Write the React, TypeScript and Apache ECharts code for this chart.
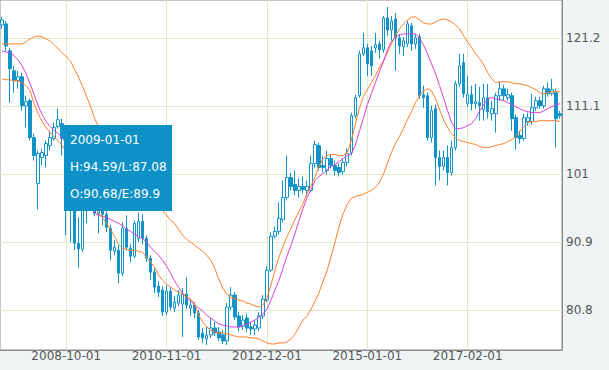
import { useEffect, useRef } from "react";
import * as echarts from "echarts";

// Monthly categories, 2007-06-01 .. 2019-01-01 (140 months)
const START_YEAR = 2007;
const START_MONTH = 6;
const MONTH_COUNT = 140;
const categories: string[] = [];
for (let k = 0; k < MONTH_COUNT; k++) {
  const m = START_MONTH - 1 + k;
  const yy = START_YEAR + Math.floor(m / 12);
  const mm = (m % 12) + 1;
  categories.push(`${yy}-${String(mm).padStart(2, "0")}-01`);
}

const yTicks = [80.8, 90.9, 101, 111.1, 121.2];

const opens = [
  123.17, 123.32, 119.32, 116.36, 114.88, 115.47, 111.17, 111.92, 106.44, 99.62,
  103.47, 103.77, 105.25, 106.29, 108.07, 108.51, 106.29, 98.58, 96.36, 90.68,
  89.84, 96.36, 98.58, 99.32, 95.18, 96.36, 95.03, 92.95, 89.55, 89.69,
  86.29, 92.95, 89.99, 88.81, 91.47, 93.99, 91.47, 88.51, 86.44, 84.36,
  83.77, 80.51, 83.62, 81.1, 81.84, 81.69, 83.18, 81.1, 81.55, 80.36,
  77.4, 76.51, 77.1, 78.14, 77.55, 77.1, 76.21, 81.25, 83.03, 79.92,
  78.44, 79.62, 78.29, 77.99, 78.14, 79.92, 82.29, 86.73, 91.77, 92.51,
  94.29, 97.55, 100.51, 99.47, 98.58, 99.18, 98.58, 98.58, 102.58, 105.25,
  102.29, 101.55, 103.32, 102.29, 101.99, 101.4, 102.73, 104.21, 109.69, 112.66,
  118.88, 119.77, 119.32, 119.77, 120.36, 119.47, 124.21, 122.43, 124.06, 121.25,
  119.92, 120.36, 123.03, 120.36, 121.4, 112.81, 112.66, 106.44, 110.73, 103.47,
  102.14, 103.47, 101.25, 104.95, 114.43, 117.55, 111.47, 112.81, 111.47, 111.62,
  110.58, 112.36, 109.99, 109.99, 112.66, 113.69, 112.36, 112.66, 109.4, 106.73,
  106.29, 108.81, 108.81, 110.88, 111.92, 111.17, 113.69, 112.95, 113.1, 109.99,
];

const closes = [
  123.92, 120.06, 116.66, 114.88, 115.47, 111.17, 111.77, 106.44, 103.77, 104.06,
  104.21, 105.55, 106.44, 107.92, 109.1, 106.29, 98.58, 96.36, 90.73, 89.9,
  96.36, 98.58, 100.07, 95.18, 96.36, 95.03, 93.1, 89.69, 90.14, 86.29,
  92.95, 90.14, 88.81, 93.69, 93.99, 91.47, 88.51, 86.44, 84.21, 83.47,
  80.51, 83.62, 81.25, 81.99, 83.03, 83.18, 81.55, 81.55, 80.36, 76.81,
  76.66, 77.1, 78.14, 77.4, 76.66, 76.21, 81.25, 83.03, 79.77, 78.29,
  79.32, 78.14, 77.99, 78.58, 79.92, 82.44, 86.73, 91.77, 92.51, 94.44,
  97.55, 100.51, 99.18, 98.58, 99.18, 98.73, 99.18, 102.58, 105.4, 101.99,
  101.99, 103.32, 102.29, 101.55, 101.25, 102.73, 104.06, 109.69, 112.36, 118.88,
  119.77, 117.4, 117.1, 120.21, 119.47, 124.21, 122.43, 123.77, 121.25, 120.06,
  120.8, 123.32, 120.36, 121.25, 112.66, 112.36, 106.44, 110.43, 103.47, 102.14,
  103.47, 101.25, 104.95, 114.43, 117.1, 112.95, 112.81, 111.47, 111.77, 111.17,
  112.36, 110.29, 110.73, 112.66, 113.69, 112.66, 112.81, 109.25, 106.44, 106.29,
  109.4, 109.4, 110.88, 111.92, 111.17, 113.69, 112.95, 113.55, 109.25, 109.69,
];

const lows = [
  122.58, 119.32, 111.62, 113.1, 113.69, 110.43, 107.92, 105.99, 103.03, 95.77,
  102.29, 101.99, 104.51, 105.99, 107.77, 103.77, 91.92, 90.88, 89.69, 87.08,
  89.4, 93.69, 97.1, 94.73, 92.21, 93.4, 92.36, 88.21, 88.95, 84.81,
  85.84, 89.69, 87.92, 88.51, 90.88, 90.58, 87.92, 85.25, 83.32, 82.73,
  79.92, 80.06, 80.81, 80.51, 81.4, 76.81, 80.95, 79.92, 79.62, 76.36,
  75.92, 75.62, 76.66, 76.95, 76.21, 75.77, 75.62, 80.81, 79.32, 77.69,
  77.84, 77.55, 77.1, 77.1, 77.69, 79.47, 81.99, 86.44, 91.47, 92.07,
  93.84, 97.1, 98.58, 97.84, 97.55, 98.14, 97.69, 98.29, 101.99, 101.55,
  101.25, 100.95, 101.84, 100.81, 100.66, 100.95, 102.14, 103.77, 109.25, 112.36,
  118.58, 115.62, 115.62, 119.03, 118.14, 119.03, 121.54, 120.8, 116.36, 118.88,
  118.58, 119.92, 119.32, 119.62, 112.21, 110.88, 105.99, 105.69, 99.32, 100.07,
  101.55, 99.32, 100.81, 104.51, 113.99, 112.36, 111.03, 110.43, 110.73, 108.95,
  108.95, 109.25, 108.95, 107.18, 111.92, 111.92, 111.92, 107.47, 104.66, 105.55,
  105.99, 108.21, 108.36, 110.43, 110.73, 110.73, 112.51, 112.66, 104.95, 109.25,
];

const highs = [
  124.36, 123.77, 119.77, 117.1, 116.36, 116.06, 112.66, 112.21, 107.03, 104.51,
  104.81, 105.99, 107.47, 108.66, 110.73, 109.25, 106.73, 100.07, 97.1, 94.59,
  97.1, 100.07, 101.55, 100.36, 97.4, 97.1, 95.62, 93.4, 91.18, 90.44,
  93.84, 94.88, 90.58, 94.14, 95.32, 95.03, 91.92, 88.95, 87.03, 85.1,
  84.36, 84.51, 84.21, 82.88, 83.77, 84.07, 85.69, 82.29, 81.99, 80.81,
  78.14, 78.44, 79.62, 79.03, 78.29, 77.84, 81.84, 84.21, 83.47, 80.51,
  80.06, 80.21, 79.03, 79.32, 80.51, 83.03, 87.32, 92.36, 93.25, 96.81,
  100.07, 103.77, 101.25, 101.55, 100.36, 100.66, 100.07, 103.77, 105.99, 105.69,
  103.77, 104.51, 103.92, 103.03, 102.58, 103.32, 104.81, 110.14, 112.81, 119.32,
  121.99, 120.36, 120.06, 121.99, 120.8, 124.51, 125.84, 124.51, 124.95, 121.84,
  121.4, 123.77, 123.47, 121.84, 121.84, 114.14, 113.1, 111.17, 111.32, 104.51,
  104.51, 105.25, 105.99, 114.88, 118.88, 118.88, 115.62, 114.14, 114.43, 113.99,
  114.43, 114.43, 111.92, 113.1, 114.73, 114.29, 113.69, 113.1, 109.84, 107.47,
  109.99, 110.14, 112.95, 112.51, 112.51, 114.14, 114.58, 115.17, 113.69, 110.43,
];

const upperBand = [
  120.36, 120.36, 120.36, 120.36, 120.36, 120.36, 120.66, 121.1, 121.4, 121.54,
  121.4, 121.1, 120.8, 120.21, 119.62, 119.03, 118.43, 117.84, 116.66, 115.47,
  114.14, 112.66, 111.17, 109.4, 108.07, 106.88, 105.84, 104.81, 103.77, 102.73,
  101.84, 100.95, 100.07, 99.32, 98.58, 97.99, 97.4, 96.95, 96.51, 96.06,
  95.62, 94.88, 94.14, 93.69, 92.8, 91.92, 91.32, 90.88, 90.44, 89.99,
  89.55, 88.95, 88.21, 87.03, 85.4, 84.07, 83.18, 82.73, 82.44, 82.29,
  82.14, 81.84, 81.69, 81.4, 81.25, 81.55, 82.58, 84.51, 86.73, 88.66,
  90.29, 91.77, 92.95, 94.29, 95.47, 96.66, 98.14, 99.32, 100.66, 102.14,
  103.32, 103.77, 103.92, 103.92, 103.77, 103.77, 104.21, 105.99, 108.36, 110.73,
  112.51, 113.55, 114.58, 115.62, 116.8, 117.84, 119.03, 120.36, 121.54, 122.58,
  123.32, 123.92, 124.36, 124.36, 123.92, 123.47, 123.32, 123.32, 123.62, 123.92,
  124.06, 123.92, 123.62, 123.17, 122.58, 121.54, 120.66, 119.77, 118.88, 118.14,
  117.25, 116.06, 115.17, 114.58, 114.73, 114.73, 114.73, 114.58, 114.43, 114.43,
  114.29, 114.14, 113.84, 113.55, 113.1, 112.95, 113.1, 113.25, 113.25, 113.25,
];

const midLine = [
  119.32, 119.17, 119.03, 118.58, 117.99, 117.1, 115.92, 114.43, 112.81, 111.17,
  109.84, 108.81, 108.07, 107.47, 107.03, 106.44, 105.55, 104.06, 102.44, 100.81,
  99.18, 97.69, 96.36, 95.32, 94.88, 94.73, 94.58, 94.29, 93.99, 93.69,
  93.4, 92.8, 92.51, 92.07, 91.77, 91.47, 90.88, 90.14, 89.55, 88.95,
  88.21, 87.32, 86.29, 85.1, 84.21, 83.32, 82.73, 82.14, 81.55, 81.1,
  80.66, 80.06, 79.62, 79.17, 78.73, 78.58, 78.44, 78.29, 78.29, 78.29,
  78.44, 78.73, 79.03, 79.32, 79.77, 80.21, 80.95, 82.29, 83.77, 85.25,
  87.03, 88.81, 90.44, 92.21, 94.14, 95.92, 97.55, 98.73, 100.07, 100.66,
  101.1, 101.69, 102.14, 102.44, 102.88, 103.32, 103.77, 104.06, 105.25, 107.32,
  109.25, 111.32, 112.95, 114.58, 116.21, 117.69, 119.47, 120.66, 121.4, 121.69,
  121.84, 121.84, 121.84, 121.84, 121.25, 120.21, 118.88, 117.4, 115.92, 114.14,
  112.36, 110.43, 108.66, 107.77, 107.77, 107.92, 108.21, 108.51, 109.25, 110.43,
  111.32, 112.21, 112.36, 112.21, 112.06, 111.92, 111.62, 111.32, 111.03, 110.73,
  110.43, 110.29, 110.14, 110.14, 110.14, 110.43, 110.73, 111.03, 111.32, 111.47,
];

const lowerBand = [
  115.17, 115.03, 115.03, 114.88, 114.88, 114.58, 114.14, 113.4, 111.47, 109.99,
  108.81, 107.92, 107.18, 106.58, 105.99, 105.25, 104.21, 103.03, 101.84, 100.51,
  99.32, 98.14, 97.1, 96.21, 95.32, 94.58, 93.69, 92.8, 91.77, 90.58,
  89.99, 89.84, 89.69, 89.69, 89.55, 89.4, 88.66, 87.92, 87.18, 85.99,
  85.25, 84.66, 84.21, 83.77, 83.47, 83.18, 82.73, 82.44, 81.69, 80.06,
  79.03, 78.29, 77.84, 77.55, 77.4, 77.4, 77.25, 77.1, 76.95, 76.81,
  76.81, 76.81, 76.66, 76.66, 76.51, 76.21, 75.92, 75.77, 75.77, 75.92,
  75.92, 76.07, 76.51, 77.25, 78.29, 79.32, 79.92, 80.95, 82.14, 83.47,
  85.1, 86.73, 88.81, 91.03, 93.25, 95.18, 96.51, 97.4, 97.69, 97.84,
  97.99, 98.29, 98.58, 99.03, 99.77, 100.95, 102.58, 104.21, 105.55, 106.58,
  107.77, 109.1, 110.29, 111.62, 112.66, 113.4, 113.69, 113.4, 112.21, 110.58,
  109.1, 107.92, 107.03, 106.44, 105.99, 105.84, 105.69, 105.55, 105.4, 105.1,
  104.95, 104.95, 105.1, 105.25, 105.4, 105.55, 105.84, 106.14, 106.58, 107.32,
  108.07, 108.66, 108.81, 108.81, 108.95, 108.95, 108.95, 108.95, 108.95, 108.81,
];

const tipDate = "2009-01-01";
const tipHigh = 94.59;
const tipLow = 87.08;
const tipOpen = 90.68;
const tipEnd = 89.9;

const FONT = "DejaVu Sans";
const CANDLE_BLUE = "#1193c8";
const labelEvery = (index: number) => index % 25 === 16;

export default function App() {
  const ref = useRef<HTMLDivElement>(null);

  useEffect(() => {
    if (!ref.current) return;
    const chart = echarts.init(ref.current, undefined, { renderer: "svg" });
    const candleData = opens.map((o, i) => [o, closes[i], lows[i], highs[i]]);
    const tipText = (text: string, y: number) => ({
      type: "text",
      x: 70,
      y,
      z: 101,
      zlevel: 0,
      style: {
        text,
        fill: "#ffffff",
        font: `12px "${FONT}"`,
        verticalAlign: "middle",
      },
    });

    chart.setOption({
      animation: false,
      backgroundColor: "#eff5f5",
      textStyle: { fontFamily: FONT },
      grid: {
        left: 0,
        right: 47,
        top: -1,
        bottom: 20,
        show: true,
        backgroundColor: "#ffffff",
        borderColor: "#8c8c8c",
        borderWidth: 1,
      },
      xAxis: {
        type: "category",
        data: categories,
        boundaryGap: true,
        axisLine: { show: true, lineStyle: { color: "#8c8c8c" } },
        axisTick: { show: false },
        axisLabel: {
          interval: labelEvery,
          color: "#555555",
          fontSize: 12,
          fontFamily: FONT,
          margin: 0,
        },
        splitLine: {
          show: true,
          interval: labelEvery,
          alignWithLabel: true,
          lineStyle: { color: "#e1e8cc", width: 1 },
        },
      },
      yAxis: {
        type: "value",
        position: "right",
        min: 74.87,
        max: 126.88,
        axisLine: { show: true, lineStyle: { color: "#8c8c8c" } },
        axisTick: { show: false, customValues: yTicks },
        axisLabel: {
          customValues: yTicks,
          color: "#555555",
          fontSize: 12,
          fontFamily: FONT,
          margin: 4,
          formatter: (v: number) => String(v),
        },
        splitLine: { show: true, lineStyle: { color: "#e1e8cc", width: 1 } },
      },
      series: [
        {
          type: "candlestick",
          data: candleData,
          barWidth: 3,
          z: 2,
          itemStyle: {
            color: "#ffffff",
            color0: CANDLE_BLUE,
            borderColor: CANDLE_BLUE,
            borderColor0: CANDLE_BLUE,
            borderWidth: 1,
          },
        },
        {
          type: "line",
          data: upperBand,
          symbol: "none",
          z: 3,
          lineStyle: { color: "#ff7f2a", width: 1 },
        },
        {
          type: "line",
          data: midLine,
          symbol: "none",
          z: 3,
          lineStyle: { color: "#d93fd9", width: 1 },
        },
        {
          type: "line",
          data: lowerBand,
          symbol: "none",
          z: 3,
          lineStyle: { color: "#ff7f2a", width: 1 },
        },
      ],
      graphic: {
        elements: [
          {
            type: "rect",
            z: 100,
            zlevel: 0,
            shape: { x: 64, y: 125, width: 108, height: 86 },
            style: { fill: "#0e91c6" },
          },
          tipText(tipDate, 140),
          tipText(`H:${tipHigh}/L:${tipLow}`, 167),
          tipText(`O:${tipOpen}/E:${tipEnd}`, 193.5),
        ],
      },
    });

    return () => chart.dispose();
  }, []);

  return <div ref={ref} style={{ width: 609, height: 370, position: "fixed", left: 0, top: 0 }} />;
}
